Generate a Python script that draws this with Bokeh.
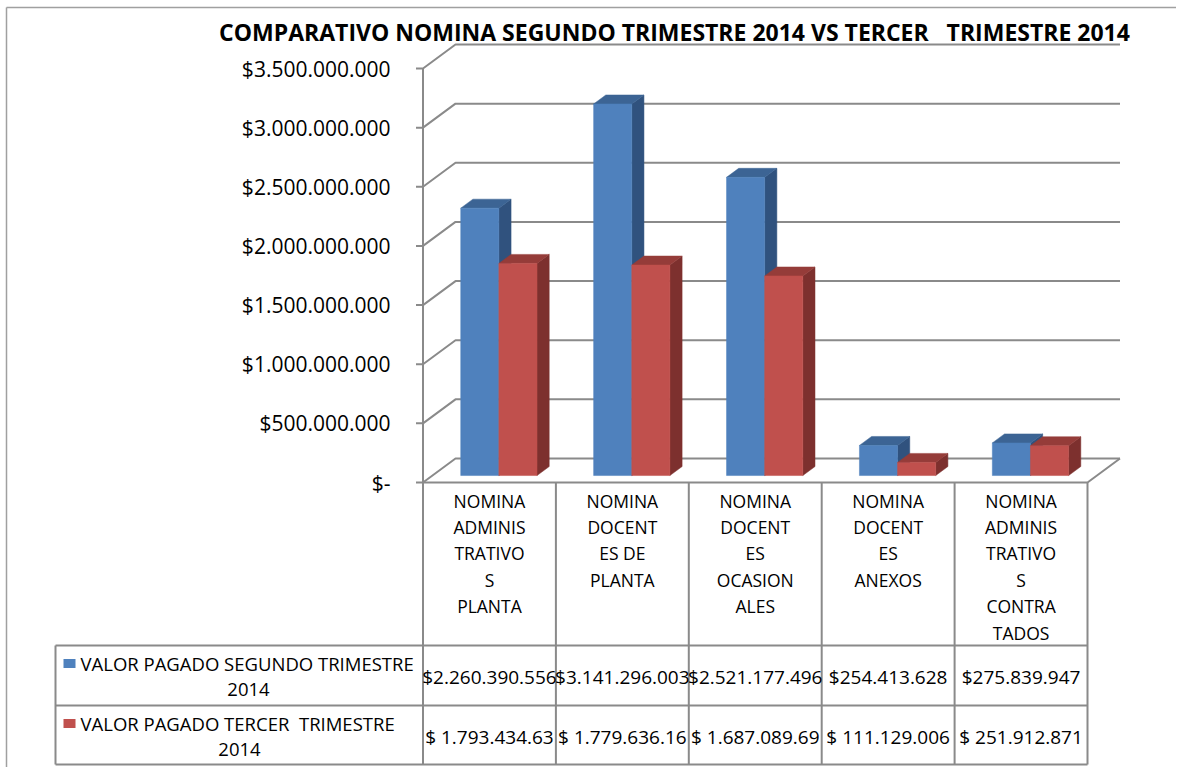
from bokeh.plotting import figure
from bokeh.models import Range1d
from bokeh.embed import file_html
from bokeh.resources import INLINE
from bokeh.core.properties import value

# ---------------- data ----------------
title = "COMPARATIVO NOMINA SEGUNDO TRIMESTRE 2014 VS TERCER\u00a0\u00a0 TRIMESTRE 2014"
categories = [
    ["NOMINA", "ADMINIS", "TRATIVO", "S", "PLANTA"],
    ["NOMINA", "DOCENT", "ES DE", "PLANTA"],
    ["NOMINA", "DOCENT", "ES", "OCASION", "ALES"],
    ["NOMINA", "DOCENT", "ES", "ANEXOS"],
    ["NOMINA", "ADMINIS", "TRATIVO", "S", "CONTRA", "TADOS"],
]
series_names = [["VALOR PAGADO SEGUNDO TRIMESTRE", "2014"],
                ["VALOR PAGADO TERCER\u00a0 TRIMESTRE", "2014"]]
segundo = [2260390556, 3141296003, 2521177496, 254413628, 275839947]
tercer = [1793434630, 1779636160, 1687089690, 111129006, 251912871]
segundo_labels = ["$2.260.390.556", "$3.141.296.003", "$2.521.177.496", "$254.413.628", "$275.839.947"]
tercer_labels = ["$ 1.793.434.63", "$ 1.779.636.16", "$ 1.687.089.69", "$ 111.129.006", "$ 251.912.871"]
y_ticks = [0, 500000000, 1000000000, 1500000000, 2000000000, 2500000000, 3000000000, 3500000000]
y_tick_labels = ["$-", "$500.000.000", "$1.000.000.000", "$1.500.000.000", "$2.000.000.000",
                 "$2.500.000.000", "$3.000.000.000", "$3.500.000.000"]

# ---------------- layout ----------------
W, H = 1176, 767
X0, Y0 = 0, 0
AX_X = 422.5          # front axis (image px)
COL = 132.9           # category width (image px)
ZERO_Y = 482.0        # zero line, front (image px)
PX_PER = 414.0 / 3.5e9
DC = 32.5 / COL       # depth in category units
DV = 24.0 / PX_PER    # depth in value units
F0, FD, BW = 0.29, 0.375, 0.287

GRID = "#8a8a8a"
FONT = value("Open Sans")
BLUE = ("#4f81bd", "#3c6494", "#30527e")
RED = ("#c0504d", "#953c39", "#7d302e")

p = figure(width=W, height=H, x_range=Range1d(X0, X0 + W), y_range=Range1d(Y0 + H, Y0),
           output_backend="svg", toolbar_location=None, min_border=0,
           x_axis_location=None, y_axis_location=None)
p.grid.visible = False
p.outline_line_color = None
p.background_fill_color = "white"
p.border_fill_color = "white"
p.extra_x_ranges = {"cat": Range1d((X0 - AX_X) / COL, (X0 + W - AX_X) / COL)}
p.extra_y_ranges = {"val": Range1d((ZERO_Y - (Y0 + H)) / PX_PER, (ZERO_Y - Y0) / PX_PER)}
n = len(segundo)

# outer border (top & left)
p.line([6, X0 + W + 5], [7, 7], line_color="#a0a0a0", line_width=1.5)
p.line([6, 6], [7, Y0 + H + 5], line_color="#a0a0a0", line_width=1.5)

# title
p.text(x=[674], y=[31], text=[title], text_font=FONT, text_font_style="bold",
       text_font_size="23px", text_align="center", text_baseline="middle", text_color="black")

# gridlines on side + back wall
gx, gy = [], []
for v in y_ticks:
    gx.append([-7 / COL, 0, DC, n + DC])
    gy.append([v, v, v + DV, v + DV])
p.multi_line(gx, gy, line_color=GRID, line_width=2, x_range_name="cat", y_range_name="val")
# front axis
p.line([0, 0], [0, y_ticks[-1]], line_color=GRID, line_width=2, x_range_name="cat", y_range_name="val")
# floor front and right edges
p.line([0, n, n + DC], [0, 0, DV], line_color=GRID, line_width=2, x_range_name="cat", y_range_name="val")

# y tick labels
p.text(x=[390] * len(y_ticks), y=y_ticks, text=y_tick_labels, text_font=FONT, text_font_size="21px",
       text_align="right", text_baseline="middle", text_color="black", y_range_name="val")

# bars
for s, (vals, cols) in enumerate([(segundo, BLUE), (tercer, RED)]):
    left, right, bottom, top = [], [], [], []
    txs, tys, sxs, sys_ = [], [], [], []
    for i, v in enumerate(vals):
        xl = i + 0.5 - BW + s * BW + F0 * DC
        base = F0 * DV
        tp = base + v
        left.append(xl); right.append(xl + BW); bottom.append(base); top.append(tp)
        txs.append([xl, xl + BW, xl + BW + FD * DC, xl + FD * DC])
        tys.append([tp, tp, tp + FD * DV, tp + FD * DV])
        sxs.append([xl + BW, xl + BW + FD * DC, xl + BW + FD * DC, xl + BW])
        sys_.append([base, base + FD * DV, tp + FD * DV, tp])
    p.patches(sxs, sys_, fill_color=cols[2], line_color=cols[2], line_width=0.5,
              x_range_name="cat", y_range_name="val")
    p.patches(txs, tys, fill_color=cols[1], line_color=cols[1], line_width=0.5,
              x_range_name="cat", y_range_name="val")
    p.quad(left=left, right=right, bottom=bottom, top=top, fill_color=cols[0], line_color=cols[0],
           line_width=0.5, x_range_name="cat", y_range_name="val")

# category labels
cx, cy, ct = [], [], []
for i, lines in enumerate(categories):
    for j, t in enumerate(lines):
        cx.append(i + 0.5); cy.append(500 + j * 26.4); ct.append(t)
p.text(x=cx, y=cy, text=ct, text_font=FONT, text_font_size="17.5px", text_align="center",
       text_baseline="middle", text_color="black", x_range_name="cat")

# data table lines
TL = (55 - AX_X) / COL
p.multi_line([[c, c] for c in range(n + 1)], [[ZERO_Y, 764]] * (n + 1), line_color=GRID, line_width=2,
             x_range_name="cat")
p.multi_line([[TL, TL], [TL, n], [TL, n], [TL, n]], [[645, 764], [645, 645], [705, 705], [764, 764]],
             line_color=GRID, line_width=2, x_range_name="cat")

# table legend keys and names
row_y = [663, 723]
centers = [248, 239]
for r, (names, cols) in enumerate(zip(series_names, [BLUE, RED])):
    p.quad(left=[63], right=[75], bottom=[row_y[r] - 4.5], top=[row_y[r] + 4.5],
           fill_color=cols[0], line_color=None)
    p.text(x=[80], y=[row_y[r]], text=[names[0]], text_font=FONT, text_font_size="18.5px",
           text_align="left", text_baseline="middle", text_color="black")
    p.text(x=[centers[r]], y=[row_y[r] + 26], text=[names[1]], text_font=FONT, text_font_size="18.5px",
           text_align="center", text_baseline="middle", text_color="black")

# table values
for r, labels in enumerate([segundo_labels, tercer_labels]):
    p.text(x=[i + 0.5 for i in range(n)], y=[676 + 60 * r] * n, text=labels, text_font=FONT,
           text_font_size="19px", text_align="center", text_baseline="middle", text_color="black",
           x_range_name="cat")

open("out.html", "w").write(file_html(p, INLINE))
